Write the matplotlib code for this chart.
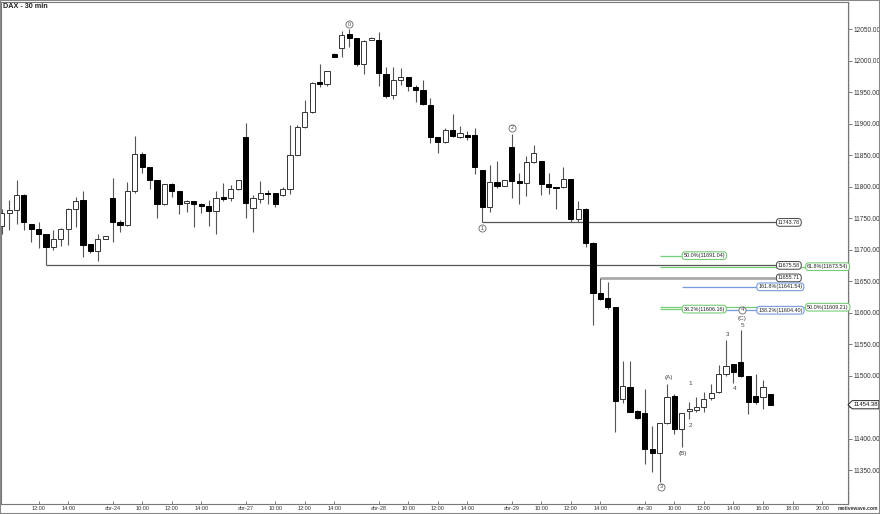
import matplotlib
matplotlib.use("Agg")
import matplotlib.pyplot as plt
import matplotlib.transforms as mtransforms
from matplotlib.patches import Polygon, Rectangle
import numpy as np

plt.rcParams['font.family'] = ['Liberation Sans', 'DejaVu Sans']

# 30 min candles, abr-23 09:30 .. abr-30 16:30
opens = [11738, 11759, 11763.5, 11787, 11742, 11734, 11726, 11704, 11717, 11733,
         11765, 11779, 11709, 11698, 11718, 11783, 11744, 11740, 11793, 11853,
         11831, 11811, 11772.5, 11805, 11793, 11774, 11778, 11773, 11770, 11762,
         11783.6, 11783, 11797, 11880, 11767, 11781, 11791, 11790, 11787, 11797,
         11851, 11895, 11918.5, 11966, 11963, 12010.6, 12020, 12043, 12036, 11995,
         12033, 12034, 11980, 11946, 11970, 11974, 11959, 11954, 11930, 11880,
         11872, 11890.5, 11880, 11882.5, 11882.5, 11827, 11768, 11808.5, 11802, 11864,
         11810, 11806, 11839, 11841, 11805, 11799.5, 11799.5, 11812, 11749, 11765,
         11711.7, 11631, 11624, 11609, 11463, 11483, 11445, 11441, 11384, 11378,
         11425, 11468, 11416, 11444, 11446, 11450, 11464.6, 11474, 11502.7, 11518.5,
         11522, 11500, 11468, 11466, 11471]
highs = [11765, 11779, 11811, 11789, 11742, 11744, 11726, 11732, 11735, 11766,
         11784, 11793, 11709, 11726, 11723, 11814, 11747, 11808, 11881, 11856,
         11832, 11811, 11804, 11806, 11793, 11780, 11778, 11774, 11779, 11793,
         11807, 11803, 11811, 11901, 11787, 11809.5, 11795, 11790, 11800, 11898,
         11898, 11938, 11966, 11996, 11984, 12012, 12048, 12050, 12037, 12034,
         12038, 12046.5, 11991, 11990, 11989, 11974, 11962, 11970, 11941, 11880,
         11893, 11916, 11897, 11889, 11893, 11827, 11835, 11842, 11811, 11884,
         11822, 11849, 11866, 11841, 11822, 11800, 11831, 11812, 11778, 11766,
         11712, 11655.7, 11649, 11609, 11524, 11524, 11446, 11480, 11421, 11378,
         11488, 11471, 11416, 11459, 11467, 11475, 11488, 11517.5, 11557, 11519,
         11573, 11500, 11503, 11494, 11471]
lows = [11725, 11732, 11742, 11732, 11713, 11703, 11676, 11700, 11706, 11708,
        11737, 11689, 11696, 11683, 11718, 11712, 11729, 11738, 11790, 11823,
        11797, 11751, 11771, 11783.6, 11756.6, 11761, 11737, 11758, 11738, 11726,
        11777, 11777, 11796, 11750, 11729, 11774, 11772.5, 11769, 11786, 11789,
        11850, 11894, 11918, 11959, 11960, 12006, 12006, 12023, 11992, 11980,
        12033, 11960, 11942, 11939, 11962, 11953, 11935.5, 11930, 11870, 11854.5,
        11870, 11879, 11877, 11875, 11821, 11743.8, 11761, 11798, 11801, 11782,
        11773, 11785, 11838, 11788, 11789, 11765, 11799, 11745, 11745, 11704,
        11581, 11621, 11607, 11410.6, 11457, 11443, 11432, 11360, 11347, 11332,
        11424, 11408, 11388, 11432, 11443, 11443, 11462, 11473, 11500, 11489,
        11498, 11440, 11456, 11448, 11454.38]
closes = [11759, 11763.5, 11787, 11745, 11734, 11726, 11704, 11717, 11734, 11764.5,
          11778, 11708, 11698, 11718, 11723, 11744, 11740, 11793, 11853, 11831,
          11811, 11772.5, 11804, 11793, 11773, 11778, 11773, 11770, 11762, 11782,
          11781.5, 11797, 11811, 11774, 11782, 11790, 11789, 11772.5, 11797, 11851,
          11895, 11918.5, 11965.6, 11964, 11984, 12007, 12041, 12036, 11995, 12032,
          12037, 11981.5, 11944, 11970, 11974, 11960, 11954, 11931, 11880, 11872,
          11890.5, 11881, 11885, 11880, 11831, 11768, 11808, 11802, 11811, 11810,
          11806, 11839, 11853.5, 11805, 11799.5, 11798, 11812, 11749, 11765, 11711,
          11632, 11623, 11609, 11461, 11484, 11443.4, 11434, 11384, 11378, 11426,
          11467, 11416, 11441, 11448, 11450, 11463.5, 11473.6, 11502.7, 11516, 11507,
          11500.5, 11459, 11459, 11483, 11454.38]

tick_pos = [5, 9, 15, 19, 23, 27, 33, 37, 41, 45, 51, 55, 59, 63,
            69, 73, 77, 81, 87, 91, 95, 99, 103, 107, 111]
tick_lab = ["12:00", "14:00", "abr-24", "10:00", "12:00", "14:00",
            "abr-27", "10:00", "12:00", "14:00", "abr-28", "10:00", "12:00", "14:00",
            "abr-29", "10:00", "12:00", "14:00", "abr-30", "10:00", "12:00", "14:00",
            "16:00", "18:00", "20:00"]

# support / resistance levels (value, start candle)
lvl_vals = [11743.78, 11675.58, 11655.71]
lvl_start = [65, 6, 81]
lvl_color = ['#555555', '#555555', '#aaaaaa']
lvl_lw = [0.9, 0.9, 2.0]

# fibonacci levels
fib_pct = ["50.0%", "61.8%", "161.8%", "38.2%", "138.2%", "50.0%"]
fib_vals = [11691.04, 11673.54, 11641.54, 11606.16, 11604.40, 11609.21]
fib_start = [89.1, 89.1, 92.1, 89.1, 92.1, 89.1]
fib_box = [92.1, 108.8, 102.2, 92.1, 102.2, 108.8]
fib_kind = ['g', 'g', 'b', 'g', 'b', 'g']

# circled primary waves
circ_text = ['0', '1', '2', '3', '4']
circ_x = [47, 65, 69.1, 89.2, 100.2]
circ_y = [12058.7, 11734.4, 11894.1, 11324.3, 11604.8]

# minor wave labels
wave_text = ['(C)', '5', '3', '4', '(A)', '(B)', '1', '2']
wave_x = [100.2, 100.2, 98.2, 99.2, 90.2, 92.2, 93.2, 93.2]
wave_y = [11591.6, 11579.4, 11566.2, 11480.5, 11497.3, 11377.3, 11488.4, 11421.1]

o = np.array(opens); h = np.array(highs); l = np.array(lows); c = np.array(closes)
idx = np.arange(len(o))
up = c >= o

fig = plt.figure(figsize=(8.8, 5.14), dpi=100)
ax = fig.add_axes([1/880, 10/514, 847/880, 502/514])

ax.vlines(idx, l, h, color='#555555', lw=0.8, zorder=2)
bot = np.minimum(o, c)
hgt = np.maximum(np.abs(c - o), 1.2)
ax.bar(idx[up], hgt[up], bottom=bot[up], width=0.7, color='white',
       edgecolor='#333333', linewidth=0.7, zorder=3)
ax.bar(idx[~up], hgt[~up], bottom=bot[~up], width=0.7, color='black',
       edgecolor='black', linewidth=0.7, zorder=3)

box_font = 3.9
for v, s, col, lw in zip(lvl_vals, lvl_start, lvl_color, lvl_lw):
    ax.hlines(v, s, 104.8, color=col, lw=lw, zorder=1)
    ax.text(105.0, v, "%.2f" % v, fontsize=box_font, ha='left', va='center', color='#222',
            bbox=dict(boxstyle='round,pad=0.25,rounding_size=0.6', fc='white', ec='#444', lw=0.7),
            zorder=5)

fib_cols = {'g': '#77cc77', 'b': '#7799dd'}
for p, v, s, b, k in zip(fib_pct, fib_vals, fib_start, fib_box, fib_kind):
    ax.hlines(v, s, b, color=fib_cols[k], lw=0.9, zorder=1)
    ax.text(b + 0.15, v, "%s(%.2f)" % (p, v), fontsize=box_font, ha='left', va='center',
            color='#222',
            bbox=dict(boxstyle='round,pad=0.25,rounding_size=0.6', fc='white',
                      ec=fib_cols[k], lw=0.8), zorder=5)

ax.scatter(circ_x, circ_y, s=26, facecolor='white', edgecolor='#666', linewidth=0.6, zorder=6)
for t, x, y in zip(circ_text, circ_x, circ_y):
    ax.text(x, y, t, fontsize=4.0, ha='center', va='center', color='#444', zorder=7)

for t, x, y in zip(wave_text, wave_x, wave_y):
    ax.text(x, y, t, fontsize=4.6, ha='center', va='center', color='#444', zorder=6)

ax.set_xlim(-0.1, 114.5)
ax.set_ylim(11296.8, 12093.65)

ax.set_xticks(tick_pos)
ax.set_xticklabels(tick_lab)
ax.tick_params(axis='x', direction='in', length=2, width=0.6, color='#666',
               labelsize=4, labelcolor='#333', pad=1.5)

yt = np.arange(11350, 12051, 50)
ax.yaxis.tick_right()
ax.set_yticks(yt)
ax.set_yticklabels(["" if v == 11450 else "%.2f" % v for v in yt])
ax.set_yticks(np.arange(11297.5, 12093, 2.5), minor=True)
ax.tick_params(axis='y', which='major', direction='out', length=3, width=0.6, color='#666',
               labelsize=4.7, labelcolor='#333', pad=1)
ax.tick_params(axis='y', which='minor', direction='out', length=1.5, width=0.3, color='#999')

for sp in ax.spines.values():
    sp.set_color('#777777')
    sp.set_linewidth(0.8)

# current price tag on the price axis
last = closes[-1]
tr = mtransforms.blended_transform_factory(ax.transAxes, ax.transData)
hh = 6.5
tag = Polygon([(1.0, last), (1.005, last + hh), (1.0365, last + hh),
               (1.0365, last - hh), (1.005, last - hh)], closed=True,
              transform=tr, fc='white', ec='#222', lw=0.7, clip_on=False, zorder=7)
ax.add_patch(tag)
ax.text(1.021, last, "%.2f" % last, transform=tr, fontsize=4.3, ha='center', va='center',
        color='#111', clip_on=False, zorder=8)

fig.text(3/880, 1 - 7/514, "DAX - 30 min", fontsize=5.2, fontweight='bold',
         ha='left', va='center', color='#222')
fig.text(878/880, 3/514, "motivewave.com", fontsize=3.6, fontweight='bold',
         ha='right', va='bottom', color='#333')

fig.patches.append(Rectangle((0, 0), 1, 1, transform=fig.transFigure, fill=False,
                             ec='#888888', lw=1.5))

fig.savefig("out.png", dpi=100)
